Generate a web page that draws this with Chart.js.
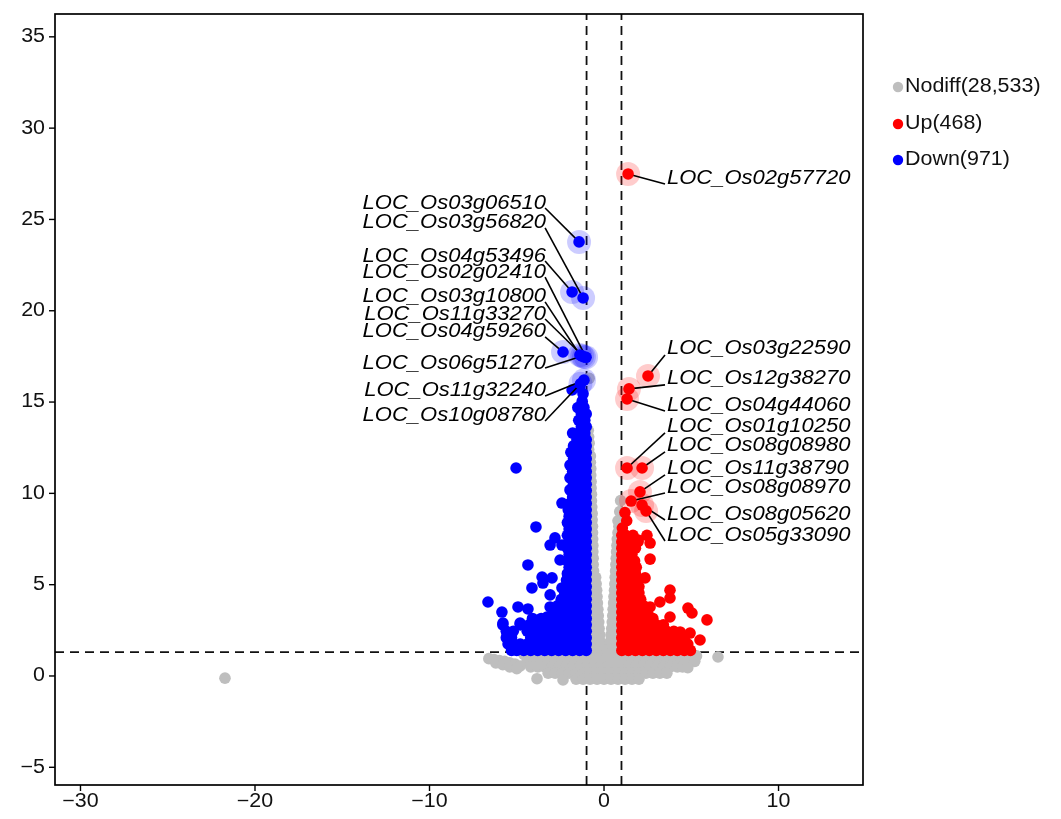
<!DOCTYPE html>
<html><head><meta charset="utf-8">
<script src="https://cdn.jsdelivr.net/npm/chart.js@4.4.1/dist/chart.umd.min.js"></script>
<style>html,body{margin:0;padding:0;background:#fff;}canvas{display:block;}</style>
</head><body>
<canvas id="c" width="1061" height="819"></canvas>
<script>
// ---------------- data ----------------
const xTicks = [-30, -20, -10, 0, 10];
const yTicks = [-5, 0, 5, 10, 15, 20, 25, 30, 35];
const xLimits = [-31.46, 14.84];
const yLimits = [-5.97, 36.25];
const fcCut = 1;
const pCut = 1.301;
const legendLabels = ['Nodiff(28,533)', 'Up(468)', 'Down(971)'];

// rows: [y, x1, x2, ...]
const nodiffRows = [
  [1.2, -4.6,-4.2,-3.8,-3.4,-3.0,-2.6,-2.2,-1.8,-1.4,-1.0,-0.6,-0.2,0.2,0.6,1.0,1.4,1.8,2.2,2.6,3.0,3.4,3.8,4.2,4.6,5.0],
  [0.85, -4.4,-4.0,-3.6,-3.2,-2.8,-2.4,-2.0,-1.6,-1.2,-0.8,-0.4,0.0,0.4,0.8,1.2,1.6,2.0,2.4,2.8,3.2,3.6,4.0,4.4,4.8],
  [0.5, -4.2,-3.8,-3.4,-3.0,-2.6,-2.2,-1.8,-1.4,-1.0,-0.6,-0.2,0.2,0.6,1.0,1.4,1.8,2.2,2.6,3.0,3.4,3.8,4.2,4.5],
  [0.15, -3.2,-2.8,-2.4,-2.0,-1.6,-1.2,-0.8,-0.4,0.0,0.4,0.8,1.2,1.6,2.0,2.4,2.8,3.2,3.6],
  [-0.18, -1.6,-1.2,-0.8,-0.4,0.0,0.4,0.8,1.2,1.6,2.0],
  [1.55, -0.9,-0.55,-0.2,0.15,0.5,0.85],
  [1.9, -0.9,-0.55,-0.22,0.37,0.7],
  [2.25, -0.85,-0.5,-0.25,0.4,0.7],
  [2.6, -0.9,-0.55,-0.28,0.44,0.75],
  [2.95, -0.85,-0.55,-0.3,0.47,0.78],
  [3.3, -0.9,-0.58,-0.33,0.5,0.8],
  [3.65, -0.85,-0.58,-0.35,0.52,0.82],
  [4.0, -0.9,-0.6,-0.38,0.55,0.85],
  [4.35, -0.85,-0.6,-0.4,0.57,0.85],
  [4.7, -0.9,-0.62,-0.42,0.6,0.87],
  [5.05, -0.85,-0.6,-0.45,0.62,0.9],
  [5.4, -0.9,-0.62,-0.48,0.64,0.9],
  [5.75, -0.85,-0.6,0.66,0.9],
  [6.1, -0.9,-0.62,0.68,0.9],
  [6.45, -0.85,-0.62,0.7,0.9],
  [6.8, -0.9,-0.64,0.72,0.9],
  [7.15, -0.85,-0.64,0.74,0.9],
  [7.5, -0.9,-0.65,0.76,0.9],
  [7.85, -0.85,-0.66,0.8],
  [8.2, -0.9,-0.66,0.85],
  [8.55, -0.85,-0.68],
  [8.9, -0.9,-0.68],
  [9.25, -0.85,-0.7],
  [9.6, -0.9,-0.72,0.95],
  [9.95, -0.85,-0.72],
  [10.3, -0.9,-0.74],
  [10.65, -0.85,-0.74],
  [11.0, -0.9,-0.76],
  [11.35, -0.85,-0.76],
  [11.7, -0.9,-0.78],
  [12.05, -0.85,-0.78],
  [12.4, -0.88],
  [12.75, -0.85],
  [13.1, -0.88],
  [13.45, -0.9]
];
const nodiffExtra = [
  [-21.72,-0.12],[-3.84,-0.15],[-2.35,-0.22],[6.53,1.04],
  [-6.6,0.95],[-6.3,0.9],[-6.0,0.85],[-5.7,0.8],[-5.4,0.72],[-5.1,0.65],[-4.8,0.55],
  [-6.2,0.72],[-5.8,0.62],[-5.4,0.5],[-5.0,0.4],
  [5.3,1.1],[5.2,0.8],[4.8,0.45],[-0.85,16.3],[0.9,9.0],[0.8,8.5]
];

const downRows = [
  [1.4, -1.02,-1.4,-1.8,-2.2,-2.6,-3.0,-3.4,-3.8,-4.2,-4.6,-5.0,-5.3],
  [1.75, -1.02,-1.2,-1.6,-2.0,-2.4,-2.8,-3.2,-3.6,-4.0,-4.4,-4.8,-5.2,-5.5],
  [2.1, -1.02,-1.4,-1.8,-2.2,-2.6,-3.0,-3.4,-3.8,-4.2,-5.3,-5.6],
  [2.45, -1.02,-1.2,-1.6,-2.0,-2.4,-2.8,-3.2,-3.6,-4.0,-4.4,-5.2,-5.6],
  [2.8, -1.02,-1.4,-1.8,-2.2,-2.6,-3.0,-3.4,-3.8,-4.3,-4.8,-5.8],
  [3.15, -1.02,-1.2,-1.6,-2.0,-2.4,-2.8,-3.2,-3.6,-4.1],
  [3.5, -1.02,-1.4,-1.8,-2.2,-2.6,-2.85],
  [3.85, -1.02,-1.2,-1.6,-2.0,-2.4,-2.65],
  [4.2, -1.02,-1.4,-1.8,-2.2,-2.45],
  [4.55, -1.02,-1.2,-1.6,-2.0,-2.25],
  [4.9, -1.02,-1.4,-1.8,-2.2],
  [5.25, -1.02,-1.2,-1.6,-2.0,-2.15],
  [5.6, -1.02,-1.4,-1.8,-2.1],
  [5.95, -1.02,-1.2,-1.6,-2.0],
  [6.3, -1.02,-1.4,-1.8,-2.1],
  [6.65, -1.02,-1.2,-1.6,-2.0],
  [7.0, -1.02,-1.4,-1.8,-2.1],
  [7.35, -1.02,-1.2,-1.6,-2.0],
  [7.7, -1.02,-1.4,-1.8,-2.1],
  [8.05, -1.02,-1.2,-1.6,-2.0],
  [8.4, -1.02,-1.4,-1.8,-2.1],
  [8.75, -1.02,-1.2,-1.6,-2.0],
  [9.1, -1.02,-1.4,-1.8,-2.05],
  [9.45, -1.02,-1.2,-1.6,-1.95],
  [9.8, -1.02,-1.4,-1.8],
  [10.15, -1.02,-1.2,-1.6,-1.9],
  [10.5, -1.02,-1.4,-1.75],
  [10.85, -1.02,-1.2,-1.6,-1.95],
  [11.2, -1.02,-1.4,-1.8],
  [11.55, -1.02,-1.2,-1.6,-1.95],
  [11.9, -1.02,-1.4,-1.75],
  [12.25, -1.02,-1.2,-1.6,-1.9],
  [12.6, -1.02,-1.4,-1.75],
  [12.95, -1.02,-1.2,-1.55],
  [13.3, -1.1,-1.45,-1.8],
  [13.65, -1.02,-1.3],
  [14.0, -1.1,-1.45],
  [14.35, -1.02,-1.3],
  [14.7, -1.15,-1.5],
  [15.05, -1.25],
  [15.45, -1.2],
  [15.8, -1.4]
];
const downExtra = [
  [-5.04,11.39],[-1.83,15.66],[-3.90,8.16],[-4.36,6.08],[-6.65,4.05],[-5.85,3.5],[-4.93,3.78],
  [-4.36,3.67],[-4.13,4.82],[-3.55,5.42],[-3.50,5.09],[-2.98,5.37],[-3.09,7.17],[-2.81,7.56],
  [-2.41,7.17],[-2.52,6.35],[-2.41,9.47],[-1.95,10.19],[-3.09,4.44],[-3.09,3.78],[-2.41,4.82],
  [-5.79,2.9],[-5.56,2.35],[-4.81,2.9],[-4.07,3.07],[-3.27,3.23],[-3.78,2.41]
];

const upRows = [
  [1.4, 1.02,1.4,1.8,2.2,2.6,3.0,3.4,3.8,4.2,4.6,4.95],
  [1.75, 1.02,1.2,1.6,2.0,2.4,2.8,3.2,3.6,4.0,4.4,4.8],
  [2.1, 1.02,1.4,1.8,2.2,2.6,3.0,3.4,3.8,4.2,4.6],
  [2.45, 1.02,1.2,1.6,2.0,2.4,2.8,3.2,3.6,4.0],
  [2.8, 1.02,1.4,1.8,2.2,2.6,3.0,3.4],
  [3.15, 1.02,1.2,1.6,2.0,2.4,2.8],
  [3.5, 1.02,1.4,1.8,2.2,2.45],
  [3.85, 1.02,1.2,1.6,2.0,2.25],
  [4.2, 1.02,1.4,1.8,2.1],
  [4.55, 1.02,1.2,1.6,2.0],
  [4.9, 1.02,1.4,1.8,2.0],
  [5.25, 1.02,1.2,1.6,1.95],
  [5.6, 1.02,1.4,1.8],
  [5.95, 1.02,1.2,1.6,1.85],
  [6.3, 1.02,1.4,1.75],
  [6.65, 1.02,1.2,1.6],
  [7.0, 1.02,1.4,1.8],
  [7.35, 1.02,1.6,1.95],
  [7.7, 1.02,1.25,1.66,2.46],
  [8.1, 1.05],
  [8.5, 1.3],
  [8.95, 1.2]
];
const upExtra = [
  [5.9,3.07],[5.5,1.97],[4.93,2.35],[4.81,3.72],[5.04,3.45],[4.36,2.41],[3.78,3.23],
  [3.2,4.05],[3.78,4.7],[3.78,4.27],[2.64,3.78],[2.64,6.4],[2.35,5.37],[2.64,3.23],
  [3.2,2.68],[2.64,7.28],[1.95,7.45]
];

const downGenes = ['LOC_Os03g06510','LOC_Os03g56820','LOC_Os04g53496','LOC_Os02g02410','LOC_Os03g10800',
                   'LOC_Os11g33270','LOC_Os04g59260','LOC_Os06g51270','LOC_Os11g32240','LOC_Os10g08780'];
const downGeneX = [-1.43,-1.20,-1.83,-1.03,-1.38,-1.15,-2.35,-1.25,-1.15,-1.35];
const downGeneY = [23.77,20.70,21.03,17.45,17.58,17.47,17.74,17.52,16.20,16.00];
const downLabelX = [-3.32,-3.32,-3.32,-3.32,-3.32,-3.32,-3.32,-3.32,-3.32,-3.32];
const downLabelY = [25.90,24.81,23.00,22.12,20.76,19.82,18.84,17.14,15.61,14.24];

const upGenes = ['LOC_Os02g57720','LOC_Os03g22590','LOC_Os12g38270','LOC_Os04g44060','LOC_Os01g10250',
                 'LOC_Os08g08980','LOC_Os11g38790','LOC_Os08g08970','LOC_Os08g05620','LOC_Os05g33090'];
const upGeneX = [1.38,2.52,1.43,1.32,1.32,2.18,2.06,1.55,2.18,2.41];
const upGeneY = [27.49,16.43,15.72,15.17,11.39,11.39,10.08,9.58,9.36,9.04];
const upLabelX = [3.61,3.61,3.61,3.61,3.61,3.61,3.61,3.61,3.61,3.61];
const upLabelY = [27.27,17.91,16.27,14.84,13.64,12.60,11.34,10.35,8.87,7.72];

// ---------------- build ----------------
const COL_NO = '#bebebe', COL_UP = '#ff0000', COL_DOWN = '#0000ff';
const FONT = "'Liberation Sans', Arial, Helvetica, sans-serif";
const SX = 1.1; // horizontal text stretch of the reference
const PR = 5.8;

function rowsToPts(rows, extra) {
  const pts = [];
  rows.forEach(r => { for (let i = 1; i < r.length; i++) pts.push({x: r[i], y: r[0]}); });
  extra.forEach(p => pts.push({x: p[0], y: p[1]}));
  return pts;
}
const nodiffPts = rowsToPts(nodiffRows, nodiffExtra);
const downPts = rowsToPts(downRows, downExtra);
const upPts = rowsToPts(upRows, upExtra);
const labPts = [], labCols = [], haloCols = [];
downGeneX.forEach((x, i) => { labPts.push({x, y: downGeneY[i]}); labCols.push(COL_DOWN); haloCols.push('rgba(0,0,255,0.2)'); });
upGeneX.forEach((x, i) => { labPts.push({x, y: upGeneY[i]}); labCols.push(COL_UP); haloCols.push('rgba(255,0,0,0.2)'); });

function ptsDs(label, data, color, order, r) {
  return { label, data, backgroundColor: color, borderWidth: 0, pointRadius: r, pointHoverRadius: r,
           pointBorderWidth: 0, order, showLine: false };
}
function lineDs(label, data) {
  return { label, data, showLine: true, borderColor: '#111', borderWidth: 1.8, borderDash: [9, 6],
           pointRadius: 0, pointHoverRadius: 0, order: 20, fill: false, tension: 0 };
}

const datasets = [
  lineDs('hline', [{x: xLimits[0], y: pCut}, {x: xLimits[1], y: pCut}]),
  lineDs('vline-', [{x: -fcCut, y: yLimits[0]}, {x: -fcCut, y: yLimits[1]}]),
  lineDs('vline+', [{x: fcCut, y: yLimits[0]}, {x: fcCut, y: yLimits[1]}]),
  ptsDs('Nodiff', nodiffPts, COL_NO, 10, PR),
  ptsDs('Down', downPts, COL_DOWN, 9, PR),
  ptsDs('Up', upPts, COL_UP, 8, PR),
  ptsDs('halo', labPts, haloCols, 5, 12),
  ptsDs('labelled', labPts, labCols, 3, PR)
];

function sText(ctx, str, x, y, align, font) {
  ctx.save();
  ctx.font = font;
  ctx.textBaseline = 'middle';
  ctx.textAlign = 'left';
  const w = ctx.measureText(str).width * SX;
  const x0 = align === 'right' ? x - w : (align === 'center' ? x - w / 2 : x);
  ctx.translate(x0, y);
  ctx.scale(SX, 1);
  ctx.fillText(str, 0, 0);
  ctx.restore();
}

const decor = {
  id: 'decor',
  afterDatasetDraw(chart, args) {
    if (chart.data.datasets[args.index].label !== 'halo') return;
    const ctx = chart.ctx, xs = chart.scales.x, ys = chart.scales.y;
    ctx.save();
    ctx.strokeStyle = '#000';
    ctx.lineWidth = 1.6;
    downGeneX.forEach((gx, i) => {
      ctx.beginPath();
      ctx.moveTo(xs.getPixelForValue(downLabelX[i]) - 1, ys.getPixelForValue(downLabelY[i]) + 5);
      ctx.lineTo(xs.getPixelForValue(gx), ys.getPixelForValue(downGeneY[i]));
      ctx.stroke();
    });
    upGeneX.forEach((gx, i) => {
      ctx.beginPath();
      ctx.moveTo(xs.getPixelForValue(upLabelX[i]) - 2, ys.getPixelForValue(upLabelY[i]) + 6);
      ctx.lineTo(xs.getPixelForValue(gx), ys.getPixelForValue(upGeneY[i]));
      ctx.stroke();
    });
    ctx.restore();
  },
  afterDraw(chart) {
    const ctx = chart.ctx, xs = chart.scales.x, ys = chart.scales.y, a = chart.chartArea;
    ctx.save();
    // gene labels
    ctx.fillStyle = '#000';
    const lf = 'italic 20px ' + FONT;
    downGenes.forEach((g, i) => sText(ctx, g, xs.getPixelForValue(downLabelX[i]), ys.getPixelForValue(downLabelY[i]), 'right', lf));
    upGenes.forEach((g, i) => sText(ctx, g, xs.getPixelForValue(upLabelX[i]), ys.getPixelForValue(upLabelY[i]), 'left', lf));
    // frame
    ctx.strokeStyle = '#000';
    ctx.lineWidth = 1.7;
    ctx.strokeRect(a.left, a.top, a.right - a.left, a.bottom - a.top);
    // ticks
    ctx.lineWidth = 1.4;
    const tf = '19.5px ' + FONT;
    ctx.fillStyle = '#111';
    yTicks.forEach(v => {
      const py = ys.getPixelForValue(v);
      ctx.beginPath(); ctx.moveTo(a.left - 6, py); ctx.lineTo(a.left, py); ctx.stroke();
      sText(ctx, v < 0 ? '\u2212' + Math.abs(v) : String(v), a.left - 10, py, 'right', tf);
    });
    xTicks.forEach(v => {
      const px = xs.getPixelForValue(v);
      ctx.beginPath(); ctx.moveTo(px, a.bottom); ctx.lineTo(px, a.bottom + 6); ctx.stroke();
      sText(ctx, v < 0 ? '\u2212' + Math.abs(v) : String(v), px, a.bottom + 17, 'center', tf);
    });
    // legend
    const lcols = [COL_NO, COL_UP, COL_DOWN];
    const ly = [87, 124, 160];
    legendLabels.forEach((t, i) => {
      ctx.fillStyle = lcols[i];
      ctx.beginPath(); ctx.arc(898, ly[i], 5.2, 0, Math.PI * 2); ctx.fill();
      ctx.fillStyle = '#111';
      sText(ctx, t, 905, ly[i], 'left', '19.5px ' + FONT);
    });
    ctx.restore();
  }
};

new Chart(document.getElementById('c'), {
  type: 'scatter',
  data: { datasets },
  options: {
    responsive: false, animation: false, devicePixelRatio: 1, events: [],
    layout: { padding: { left: 55, right: 198, top: 14, bottom: 34 } },
    scales: {
      x: { type: 'linear', min: xLimits[0], max: xLimits[1], display: false },
      y: { type: 'linear', min: yLimits[0], max: yLimits[1], display: false }
    },
    plugins: { legend: { display: false }, tooltip: { enabled: false } }
  },
  plugins: [decor]
});
</script>
</body></html>
